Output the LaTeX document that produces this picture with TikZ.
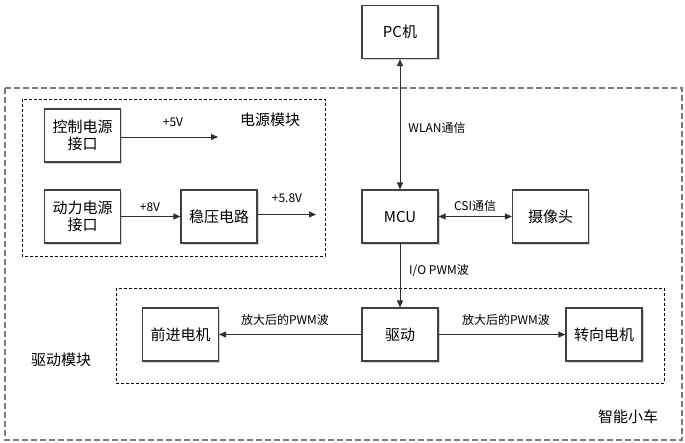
\documentclass[tikz,border=0pt]{standalone}
\usepackage{fontspec}
\setmainfont{Noto Sans CJK SC}
\usepackage{tikz}
\usetikzlibrary{positioning}
\usetikzlibrary{arrows.meta, shadows}

\begin{document}
\begin{tikzpicture}[x=1pt, y=-1pt,
  mybox/.style={draw=boxline, line width=1.1pt, fill=white, minimum width=76pt, minimum height=53pt,
    align=center, font=\fontsize{15}{17}\selectfont, inner sep=1pt,
    drop shadow={opacity=0.35, shadow xshift=1.6pt, shadow yshift=-1.6pt}},
  mylabel/.style={font=\fontsize{12}{14}\selectfont, inner sep=0pt},
  mytitle/.style={font=\fontsize{15}{17}\selectfont, inner sep=0pt},
  myline/.style={draw=arrowline, line width=0.9pt, >={Triangle[length=7pt, width=6pt]}}]

% colours
\definecolor{boxline}{HTML}{404040}
\definecolor{arrowline}{HTML}{303030}
\definecolor{outerdash}{HTML}{7a7a7a}

\useasboundingbox (0,0) rectangle (685,442);

%% frames
\draw [outerdash, line width=1.2pt, dash pattern=on 6pt off 3pt] (5,88) rectangle (682,440);
\draw [black, line width=0.7pt, dash pattern=on 3pt off 2pt] (22,99) rectangle (325,256);
\draw [black, line width=0.7pt, dash pattern=on 3pt off 2pt] (116,288) rectangle (664,383);
\node [mytitle] (powtitle) at (270,120) {电源模块};
\node [mytitle] (drvtitle) at (61,360) {驱动模块};
\node [mytitle] (cartitle) at (628,417) {智能小车};

%% power module
\node [mybox] (ctrl) at (82.5,135.5) {控制电源\\接口};
\node [mybox] (power) at (82.5,216.5) {动力电源\\接口};
\node [mybox] (reg) at (219,216.5) {稳压电路};
\coordinate (out5) at (218,137);
\coordinate (out58) at (316,214.5);
\draw [myline, ->] (ctrl.east |- out5) -- (out5);
\draw [myline, ->] (power) -- (reg);
\draw [myline, ->] (reg.east |- out58) -- (out58);
\node [mylabel] (l5) at (173,122) {+5V};
\node [mylabel] (l8) at (150,207) {+8V};
\node [mylabel] (l58) at (287,198) {+5.8V};

%% PC and MCU
\node [mybox] (pc) at (400,32) {PC机};
\node [mybox] (mcu) at (400,216.5) {MCU};
\node [mybox] (cam) at (550.5,216.5) {摄像头};
\draw [myline, <->] (pc) -- (mcu);
\draw [myline, <->] (mcu) -- (cam);
\node [mylabel] (lwlan) at (437,128) {WLAN通信};
\node [mylabel] (lcsi) at (475,206) {CSI通信};

%% drive module
\node [mybox] (drv) at (400,334.5) {驱动};
\node [mybox] (fwd) at (180.5,334.5) {前进电机};
\node [mybox] (steer) at (604,334.5) {转向电机};
\draw [myline, ->] (mcu) -- (drv);
\draw [myline, ->] (drv) -- (fwd);
\draw [myline, ->] (drv) -- (steer);
\node [mylabel] (lio) at (439,271) {I/O PWM波};
\node [mylabel] (lamp1) at (285,320) {放大后的PWM波};
\node [mylabel] (lamp2) at (506,320) {放大后的PWM波};
\end{tikzpicture}
\end{document}
